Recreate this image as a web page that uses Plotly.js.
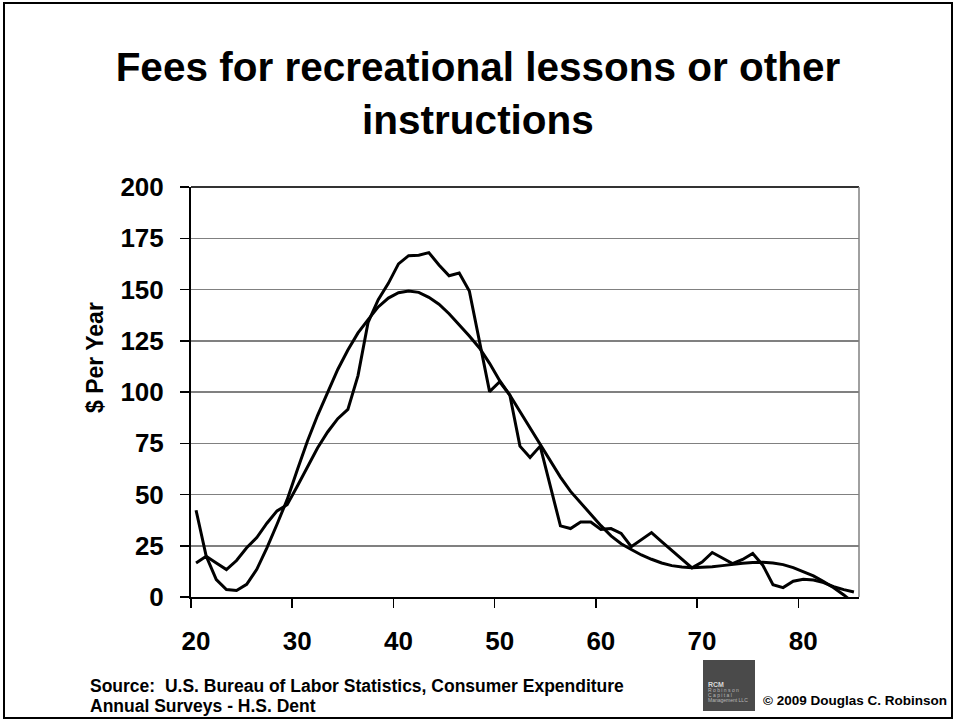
<!DOCTYPE html>
<html>
<head>
<meta charset="utf-8">
<script src="https://cdn.plot.ly/plotly-3.0.1.min.js"></script>
<style>
html,body{margin:0;padding:0;background:#fff;}
#chart{width:956px;height:723px;}
#frame{position:absolute;left:3px;top:2px;width:946px;height:713px;border:2px solid #000;pointer-events:none;}
</style>
</head>
<body>
<div id="chart"></div>
<div id="frame"></div>
<script>
// ---- data ----
const ages = [20,21,22,23,24,25,26,27,28,29,30,31,32,33,34,35,36,37,38,39,40,41,42,43,44,45,46,47,48,49,50,51,52,53,54,55,56,57,58,59,60,61,62,63,64,65,66,67,68,69,70,71,72,73,74,75,76,77,78,79,80,81,82,83,84,85];
const fees = [16.6,19.9,16.6,13.4,17.8,24,29,36,42,45,54,63.5,72.7,80.5,87,91.5,108,134,145,153,162.5,166.5,166.7,168,162,156.7,158,149.3,124,100.2,105,98.5,73.6,68,73.6,54,34.7,33.4,36.6,36.6,33,33.4,31,24.5,28,31.4,27,22.8,18.5,14.2,17,21.7,19,16.3,18.3,21.2,15.5,6,4.6,7.7,8.7,8.3,7,5,3.6,2.4];
const trend = [42.3,20,8.5,3.6,3.2,6.2,13.5,24,35.5,47.5,62,76,88.5,100,111,120.5,128.8,135.3,141.5,145.8,148.4,149.3,148.6,146.2,142.8,138.2,133,127.3,121.5,114,105.5,98.5,90.5,82.5,74.5,66,58.5,51.5,45.8,40.2,34.8,29.8,26,23.2,20.5,18.4,16.6,15.3,14.6,14.3,14.4,14.7,15.3,16,16.5,16.8,16.9,16.6,15.8,14.3,12.3,10.3,7.5,4.5,1,-3];
const xTickPos = [19.5,29.5,39.5,49.5,59.5,69.5,79.5];
const xTickText = ['20','30','40','50','60','70','80'];
const yTickVals = [0,25,50,75,100,125,150,175,200];

const titleText = 'Fees for recreational lessons or other<br>instructions';
const yTitle = '$ Per Year';
const source1 = 'Source:  U.S. Bureau of Labor Statistics, Consumer Expenditure';
const source2 = 'Annual Surveys - H.S. Dent';
const copyright = '\u00a9 2009 Douglas C. Robinson';

// ---- layout geometry ----
const W = 956, H = 723;
const M = {l:191, r:97, t:187, b:126};
const PW = W - M.l - M.r, PH = H - M.t - M.b;
const px = x => (x - M.l) / PW;
const py = y => (M.t + PH - y) / PH;
const FONT = '"Liberation Sans", Arial, Helvetica, sans-serif';

const lineStyle = {color:'#000', width:3};
const traces = [
  {x: ages, y: fees, type:'scatter', mode:'lines', line: lineStyle, hoverinfo:'skip', showlegend:false},
  {x: ages, y: trend, type:'scatter', mode:'lines', line: lineStyle, hoverinfo:'skip', showlegend:false}
];

const ann = (text, x, y, size, opts) => Object.assign({
  text, xref:'paper', yref:'paper', x: px(x), y: py(y), showarrow:false,
  xanchor:'left', yanchor:'middle', font:{family:FONT, size, color:'#000', weight:'bold'}
}, opts || {});

const layout = {
  width: W, height: H,
  margin: M,
  paper_bgcolor:'#fff', plot_bgcolor:'#fff',
  showlegend:false,
  title: {
    text: titleText, x: 0.5, xanchor:'center', xref:'container',
    y: 1 - 81 / H, yanchor:'middle', yref:'container',
    font: {family: FONT, size: 40.5, color:'#000', weight:'bold'}
  },
  xaxis: {
    range:[19.5, 85.5], fixedrange:true,
    tickmode:'array', tickvals: xTickPos, ticktext: xTickText,
    ticks:'outside', ticklen:9, tickwidth:1.5, tickcolor:'#000',
    ticklabelshift: 5, ticklabelstandoff: 11,
    tickfont:{family:FONT, size:26, color:'#000', weight:'bold'},
    showgrid:false, zeroline:false,
    showline:true, linecolor:'#000', linewidth:2
  },
  yaxis: {
    range:[0, 200], fixedrange:true,
    tickmode:'array', tickvals: yTickVals,
    ticks:'outside', ticklen:9, tickwidth:1.5, tickcolor:'#000',
    ticklabelstandoff: 11,
    tickfont:{family:FONT, size:26, color:'#000', weight:'bold'},
    showgrid:true, gridcolor:'#808080', gridwidth:1.5, zeroline:false,
    showline:true, linecolor:'#000', linewidth:2
  },
  shapes: [
    {type:'line', xref:'paper', yref:'paper', x0:0, x1:1, y0:1, y1:1, line:{color:'#333', width:2}},
    {type:'line', xref:'paper', yref:'paper', x0:1, x1:1, y0:0, y1:1, line:{color:'#808080', width:1.5}},
    {type:'rect', xref:'paper', yref:'paper', x0:px(703), x1:px(755), y0:py(711), y1:py(660), fillcolor:'#4a4a4a', line:{width:0}, layer:'above'}
  ],
  annotations: [
    ann(yTitle, 95, 358, 23, {textangle:-90, xanchor:'center', yanchor:'middle'}),
    ann(source1, 88, 686, 17.5),
    ann(source2, 88, 706, 17.5),
    ann(copyright, 761, 700, 13.5),
    ann('RCM', 706, 684, 7, {font:{family:FONT, size:7, color:'#d8d8d8', weight:'bold'}}),
    ann('R o b i n s o n', 706, 690, 5, {font:{family:FONT, size:5, color:'#b8b8b8'}}),
    ann('C a p i t a l', 706, 695, 5, {font:{family:FONT, size:5, color:'#b8b8b8'}}),
    ann('Management LLC', 706, 700, 5, {font:{family:FONT, size:5, color:'#b8b8b8'}})
  ]
};

Plotly.newPlot('chart', traces, layout, {staticPlot:true, displayModeBar:false});
</script>
</body>
</html>
